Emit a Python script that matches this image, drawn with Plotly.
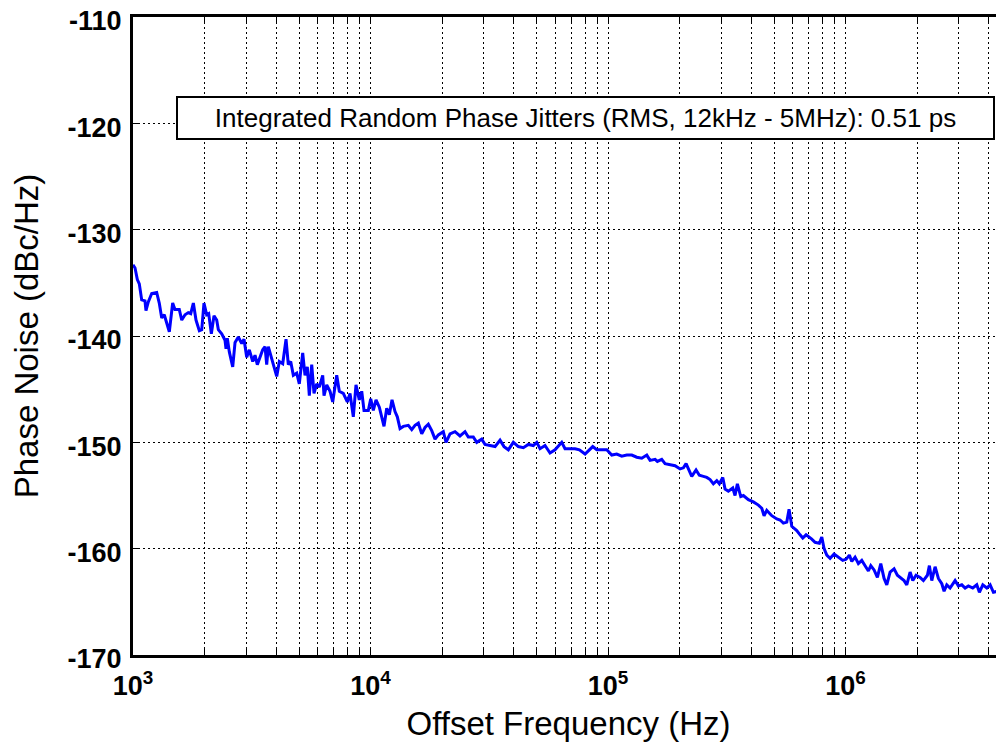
import plotly.graph_objects as go

# measured phase noise trace (offset frequency in Hz, level in dBc/Hz)
freq_hz = [
    1000, 1020, 1043, 1063, 1088, 1123, 1134, 1160, 1199, 1258, 1290, 1321, 1354, 1386, 1422,
    1469, 1502, 1566, 1604, 1656, 1709, 1750, 1795, 1842, 1902, 1947, 1990, 2043, 2083, 2137,
    2193, 2251, 2287, 2363, 2440, 2464, 2495, 2544, 2629, 2689, 2776, 2869, 2934, 3011, 3088,
    3192, 3264, 3337, 3425, 3516, 3596, 3655, 3713, 3837, 3924, 4028, 4131, 4269, 4408, 4507,
    4613, 4731, 4890, 5014, 5182, 5299, 5419, 5525, 5655, 5782, 5936, 6087, 6291, 6371, 6540,
    6753, 6931, 7206, 7389, 7681, 7986, 8197, 8464, 8687, 8970,
    9183, 9388, 9788, 10019, 10275, 10548, 10891, 11148, 11397, 11700, 12000, 12317, 12682,
    12966, 13310, 13743, 14427, 14910, 15395, 15896, 16428, 16962, 17515, 18101, 18690, 19298,
    20253, 20791, 21611, 22684, 23807, 24992, 25806, 27083, 28004, 29393, 30349, 31857, 33436,
    35096, 36486, 38041, 39929, 41908, 43986, 46166, 48454, 50096, 51725, 54287, 56975, 59807,
    61752, 63833, 65898, 69183, 72627, 75722,
    77503, 80025, 82627, 86226, 89628, 94083, 98740, 103660, 108800, 114200, 119900, 125860,
    132100, 138700, 145560, 150300, 157800, 161300, 168300, 173800, 182400, 191500, 201000,
    207600, 213100, 217800, 225100, 234700, 242300, 252000, 260400, 268900, 277600, 286900,
    294200, 304100, 310900, 321000, 335000, 342500, 350300, 362000, 371300, 389700, 409100,
    429400, 443800, 453800, 465800, 489000, 513200, 529900, 547100, 565500, 578200, 593600,
    623000, 643300,
    660400, 681900, 704100, 720600, 744100, 775800, 794100, 812000, 833500, 860600, 894600,
    932600, 973200, 1004900, 1037500, 1061900, 1096500, 1132100, 1170100, 1208200, 1247500,
    1276900, 1318300, 1361200, 1406700, 1452500, 1491100, 1539600, 1600300, 1652400, 1707700,
    1763200, 1810100, 1869000, 1918400, 1980800, 2059400, 2126400, 2210400, 2253600, 2306600,
    2381600, 2459100, 2541800, 2598600, 2667700, 2754200, 2891300, 2985000, 3085600, 3185900,
    3289500, 3432600, 3568200, 3659700, 3782200, 3932600, 4060400, 4192400, 4332800, 4548300,
    5000000,
]
noise_dbc = [
    -133.3, -133.6, -134.7, -135.1, -136.6, -136.7, -137.6, -136.8, -136.0, -135.9, -136.9, -138.3,
    -138.0, -138.7, -139.6, -136.9, -137.5, -137.5, -138.5, -138.0, -137.8, -137.9, -136.9, -138.5,
    -139.5, -139.4, -136.9, -138.0, -137.9, -139.8, -138.1, -138.5, -139.4, -139.8, -140.4, -141.2,
    -140.2, -141.5, -142.9, -140.6, -140.1, -140.7, -140.3, -142.0, -141.3, -142.4, -141.8, -142.7,
    -142.0, -141.3, -141.0, -142.7, -141.0, -142.0, -142.9, -143.8, -142.4, -142.6, -140.3, -142.7,
    -142.4, -143.7, -143.5, -144.5, -141.6, -143.7, -142.9, -145.6, -142.7, -145.4, -144.5, -144.8,
    -143.7, -145.6, -144.6, -145.2, -146.2, -143.7, -145.2, -145.4, -146.2, -145.4, -147.6, -144.6,
    -146.0,
    -145.2, -147.0, -147.0, -145.9, -147.0, -146.0, -146.7, -147.6, -148.5, -146.8, -147.4, -146.0,
    -147.1, -147.6, -148.7, -148.5, -148.4, -148.8, -148.4, -148.2, -149.2, -148.6, -148.3, -148.9,
    -149.7, -149.3, -149.0, -150.0, -149.2, -149.0, -149.4, -149.0, -149.5, -149.5, -150.0, -149.7,
    -150.2, -150.3, -150.4, -149.8, -150.4, -150.7, -150.0, -150.4, -150.5, -150.2, -150.3, -150.0,
    -150.6, -150.3, -151.0, -150.7, -150.4, -150.0, -150.6, -150.6, -150.6, -150.7,
    -150.9, -151.1, -150.8, -150.4, -150.7, -150.7, -150.7, -151.2, -151.1, -151.3, -151.2, -151.2,
    -151.4, -151.5, -151.2, -151.7, -151.6, -151.8, -151.6, -152.0, -152.1, -152.2, -152.5, -152.4,
    -152.0, -152.5, -153.2, -152.6, -153.1, -153.2, -153.3, -153.5, -153.9, -153.6, -153.9, -153.3,
    -154.4, -154.6, -154.3, -155.0, -153.9, -155.1, -155.0, -155.4, -155.6, -155.9, -156.2, -156.9,
    -156.4, -156.9, -157.2, -157.3, -157.6, -157.5, -156.3, -157.9, -158.3, -158.7,
    -159.0, -158.7, -158.9, -159.1, -159.4, -159.5, -158.9, -160.0, -160.6, -160.9, -160.5, -160.8,
    -161.1, -161.0, -160.6, -161.2, -160.8, -161.4, -161.1, -161.6, -162.1, -161.6, -162.0, -162.7,
    -161.4, -162.8, -163.4, -162.2, -161.9, -162.5, -162.8, -163.0, -163.4, -162.2, -163.0, -162.5,
    -162.7, -163.0, -162.5, -161.6, -163.0, -161.7, -162.8, -163.3, -164.0, -163.4, -163.7, -163.0,
    -163.5, -163.4, -163.7, -163.5, -163.7, -163.4, -164.1, -163.4, -163.7, -163.4, -164.1, -164.0,
    -163.9, -164.0,
]

y_ticks = [-170, -160, -150, -140, -130, -120, -110]
y_tick_text = ["-170", "-160", "-150", "-140", "-130", "-120", "-110"]
decades = [3, 4, 5, 6]
jitter_note = "Integrated Random Phase Jitters (RMS, 12kHz - 5MHz): 0.51 ps"

x_ticks = []
x_tick_text = []
for n in decades:
    for k in range(1, 10):
        if k * 10 ** n > 4.7e6:
            continue
        x_ticks.append(k * 10 ** n)
        x_tick_text.append("<b>10<sup>%d</sup></b>" % n if k == 1 else "")

font = "Liberation Sans, Arial, sans-serif"
grid_dash = "2px,3px"

fig = go.Figure()
fig.add_trace(
    go.Scatter(
        x=freq_hz,
        y=noise_dbc,
        mode="lines",
        line=dict(color="#0000FF", width=3),
        showlegend=False,
    )
)

# the page body adds an 8px offset, so the figure is shrunk to fit the window
fig.update_layout(
    width=996,
    height=742,
    margin=dict(l=125, r=0, t=9, b=95),
    paper_bgcolor="white",
    plot_bgcolor="white",
    font=dict(family=font, color="black"),
    xaxis=dict(
        type="log",
        range=[3, 6.667],
        tickvals=x_ticks,
        ticktext=x_tick_text,
        tickfont=dict(size=27, family=font),
        ticklabelstandoff=5,
        ticks="inside",
        ticklen=6,
        tickcolor="black",
        showline=True,
        linecolor="black",
        linewidth=3,
        mirror="ticks",
        showgrid=True,
        gridcolor="black",
        gridwidth=1,
        griddash=grid_dash,
        zeroline=False,
        title=dict(text="Offset Frequency (Hz)", font=dict(size=33, family=font), standoff=12),
        automargin=False,
    ),
    yaxis=dict(
        range=[-170, -110],
        tickvals=y_ticks,
        ticktext=["<b>%s</b>" % t for t in y_tick_text],
        tickfont=dict(size=27, family=font),
        ticklabelstandoff=3,
        ticklabelshift=4,
        ticklabeloverflow="allow",
        ticks="inside",
        ticklen=6,
        tickcolor="black",
        showline=True,
        linecolor="black",
        linewidth=3,
        showgrid=True,
        gridcolor="black",
        gridwidth=1,
        griddash=grid_dash,
        zeroline=False,
        title=dict(text="Phase Noise (dBc/Hz)", font=dict(size=33, family=font), standoff=20),
        automargin=False,
    ),
    annotations=[
        dict(
            text=jitter_note,
            xref="paper",
            yref="paper",
            x=0.5195,
            y=0.8417,
            xanchor="center",
            yanchor="middle",
            showarrow=False,
            font=dict(size=26, family=font, color="black"),
            bgcolor="white",
            bordercolor="black",
            borderwidth=2,
            borderpad=2,
            width=811,
            height=36,
        )
    ],
)

fig.write_html("out.html")
